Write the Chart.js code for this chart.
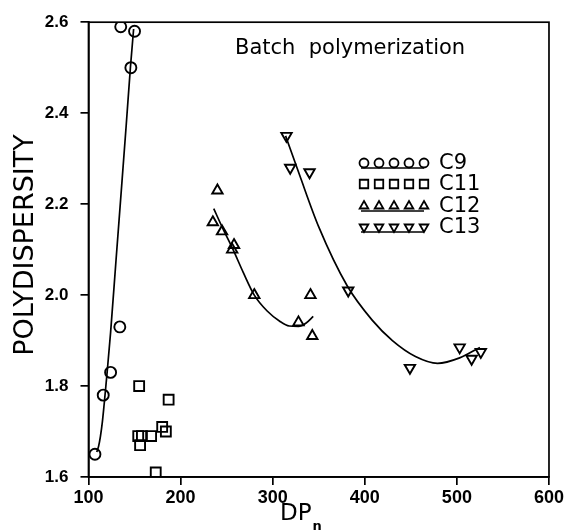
<!DOCTYPE html>
<html>
<head>
<meta charset="utf-8">
<script src="https://cdn.jsdelivr.net/npm/chart.js@4/dist/chart.umd.min.js"></script>
<style>
  html, body { margin: 0; padding: 0; background: #fff; }
  #wrap { width: 566px; height: 531px; }
</style>
</head>
<body>
<div id="wrap"><canvas id="poly"></canvas></div>
<script>
// measured points
var c9X = [107, 116, 124, 134, 135, 146, 150];
var c9Y = [1.65, 1.78, 1.83, 1.93, 2.59, 2.50, 2.58];
var c11X = [155, 187, 154, 158, 168, 156, 180, 184, 173];
var c11Y = [1.80, 1.77, 1.69, 1.69, 1.69, 1.67, 1.71, 1.70, 1.61];
var c12X = [240, 235, 245, 258, 256, 280, 341, 328, 343];
var c12Y = [2.23, 2.16, 2.14, 2.11, 2.10, 2.00, 2.00, 1.94, 1.91];
var c13X = [315, 319, 340, 382, 449, 503, 516, 526];
var c13Y = [2.35, 2.28, 2.27, 2.01, 1.84, 1.885, 1.86, 1.875];

// fitted curves
var c9FitX = [109, 111, 113, 115, 117, 120, 124, 130, 136, 141, 145.5, 149];
var c9FitY = [1.655, 1.668, 1.69, 1.72, 1.76, 1.825, 1.918, 2.08, 2.24, 2.375, 2.50, 2.585];
var c12FitX = [236, 245, 257, 268, 280, 294, 308, 318, 328, 336, 344];
var c12FitY = [2.19, 2.15, 2.10, 2.05, 2.00, 1.965, 1.942, 1.932, 1.931, 1.938, 1.953];
var c13FitX = [314, 329, 350, 381, 408, 430, 455, 479, 503, 525];
var c13FitY = [2.35, 2.265, 2.15, 2.02, 1.945, 1.90, 1.865, 1.85, 1.862, 1.885];

var seriesNames = ['C9', 'C11', 'C12', 'C13'];
var xTicks = [100, 200, 300, 400, 500, 600];
var yTicks = [1.6, 1.8, 2.0, 2.2, 2.4, 2.6];

function pts(xs, ys) {
    return xs.map(function (x, i) { return { x: x, y: ys[i] }; });
}

var markerDefs = [
    { style: 'circle', rotation: 0, radius: 5.5, legendRadius: 4.5, fit: true },
    { style: 'rect', rotation: 0, radius: 7, legendRadius: 6, fit: false },
    { style: 'triangle', rotation: 0, radius: 6, legendRadius: 5, fit: true },
    { style: 'triangle', rotation: 180, radius: 6, legendRadius: 5, fit: true }
];

function markerSet(i, xs, ys) {
    var m = markerDefs[i];
    return {
        label: seriesNames[i],
        data: pts(xs, ys),
        pointStyle: m.style,
        rotation: m.rotation,
        pointRadius: m.radius,
        pointHoverRadius: m.radius,
        pointBorderColor: '#000',
        pointBackgroundColor: 'rgba(0,0,0,0)',
        pointBorderWidth: 1.9,
        showLine: false
    };
}

function fitSet(xs, ys) {
    return {
        label: 'fit',
        data: pts(xs, ys),
        showLine: true,
        pointRadius: 0,
        borderColor: '#000',
        borderWidth: 1.7,
        cubicInterpolationMode: 'monotone',
        fill: false
    };
}

var textPlugin = {
    id: 'textPlugin',
    afterDraw: function (chart) {
        var ctx = chart.ctx, a = chart.chartArea;
        ctx.save();
        // frame
        ctx.strokeStyle = '#000';
        ctx.lineWidth = 1.7;
        ctx.strokeRect(a.left, a.top, a.right - a.left, a.bottom - a.top);

        ctx.fillStyle = '#000';
        ctx.textBaseline = 'alphabetic';
        ctx.textAlign = 'left';
        ctx.font = '21px "DejaVu Sans"';
        ctx.fillText('Batch  polymerization', 235, 54);

        // y title
        ctx.save();
        ctx.translate(33, 245);
        ctx.rotate(-Math.PI / 2);
        ctx.textAlign = 'center';
        ctx.font = '27px "DejaVu Sans"';
        ctx.fillText('POLYDISPERSITY', 0, 0);
        ctx.restore();

        // x title
        ctx.font = '23px "DejaVu Sans"';
        ctx.fillText('DP', 280, 520);
        var w = ctx.measureText('DP').width;
        ctx.font = 'bold 13px "DejaVu Sans"';
        ctx.fillText('n', 281 + w, 530);

        // legend
        var rowY = [163, 184, 206, 227];
        var colX = [364, 379, 394, 409, 424];
        for (var i = 0; i < seriesNames.length; i++) {
            var m = markerDefs[i];
            var cy = rowY[i];
            ctx.strokeStyle = '#000';
            ctx.fillStyle = 'rgba(0,0,0,0)';
            ctx.lineWidth = 1.8;
            for (var k = 0; k < colX.length; k++) {
                Chart.helpers.drawPoint(ctx, {
                    pointStyle: m.style, rotation: m.rotation,
                    radius: m.legendRadius, borderWidth: 1.8
                }, colX[k], cy);
            }
            if (m.fit) {
                ctx.beginPath();
                ctx.lineWidth = 1.6;
                ctx.moveTo(colX[0] - 3, cy + 5);
                ctx.lineTo(colX[colX.length - 1], cy + 5);
                ctx.stroke();
            }
            ctx.fillStyle = '#000';
            ctx.font = '21px "DejaVu Sans"';
            ctx.textBaseline = 'middle';
            ctx.fillText(seriesNames[i], 439, cy + 1);
            ctx.textBaseline = 'alphabetic';
        }
        ctx.restore();
    }
};

Chart.defaults.font.family = '"Liberation Sans"';
Chart.defaults.color = '#000';

var polyChart = new Chart(document.getElementById('poly'), {
    type: 'scatter',
    data: {
        datasets: [
            fitSet(c9FitX, c9FitY),
            fitSet(c12FitX, c12FitY),
            fitSet(c13FitX, c13FitY),
            markerSet(0, c9X, c9Y),
            markerSet(1, c11X, c11Y),
            markerSet(2, c12X, c12Y),
            markerSet(3, c13X, c13Y)
        ]
    },
    options: {
        responsive: true,
        maintainAspectRatio: false,
        animation: false,
        layout: { padding: { top: 18, right: 17, left: 0, bottom: 0 } },
        plugins: { legend: { display: false }, tooltip: { enabled: false } },
        scales: {
            x: {
                type: 'linear', min: 100, max: 600,
                afterBuildTicks: function (s) { s.ticks = xTicks.map(function (v) { return { value: v }; }); },
                afterFit: function (s) { s.height = 54; },
                ticks: { font: { size: 18, weight: 'bold' }, padding: 2, color: '#000' },
                grid: { drawOnChartArea: false, tickLength: 8, color: '#000', lineWidth: 1.7 },
                border: { color: '#000', width: 1.7 }
            },
            y: {
                type: 'linear', min: 1.6, max: 2.6,
                afterBuildTicks: function (s) { s.ticks = yTicks.map(function (v) { return { value: v }; }); },
                afterFit: function (s) { s.width = 88.5; },
                ticks: {
                    font: { size: 17, weight: 'bold' }, padding: 12, color: '#000',
                    callback: function (v) { return Number(v).toFixed(1); }
                },
                grid: { drawOnChartArea: false, tickLength: 8, color: '#000', lineWidth: 1.7 },
                border: { color: '#000', width: 1.7 }
            }
        }
    },
    plugins: [textPlugin]
});
</script>
</body>
</html>
